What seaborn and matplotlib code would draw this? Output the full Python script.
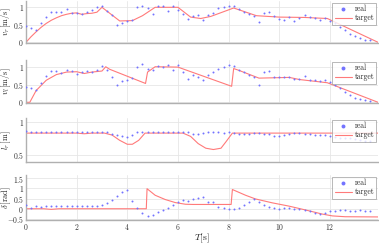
import numpy as np
import pandas as pd
import matplotlib
matplotlib.use('Agg')
import matplotlib.pyplot as plt
from matplotlib.ticker import FuncFormatter
import seaborn as sns

# sample times of the measured ("real") data
t_real = np.round(np.arange(0, 13.7, 0.2), 1)

# panel 1 : v_r
vr_real = [0.47, 0.42, 0.35, 0.55, 0.72, 0.88, 0.88, 0.86, 0.95, 0.85,
           0.84, 0.82, 0.86, 0.93, 1.0, 1.05, 0.9, 0.78, 0.5, 0.55,
           0.62, 0.63, 1.0, 1.05, 0.97, 0.82, 1.03, 1.05, 0.9, 1.05,
           0.92, 0.8, 0.68, 0.75, 0.78, 0.64, 0.78, 0.83, 0.98, 1.0,
           1.03, 1.05, 0.94, 0.88, 0.8, 0.74, 0.57, 0.85, 0.86, 0.76,
           0.68, 0.65, 0.72, 0.62, 0.7, 0.78, 0.72, 0.7, 0.65, 0.7,
           0.6, 0.56, 0.45, 0.35, 0.25, 0.17, 0.12, 0.08, 0.06]
vr_t_tgt = [0, 0.2, 0.4, 0.6, 0.8, 1.0, 1.2, 1.4, 1.6, 1.8, 2.0, 2.2, 2.4, 2.6, 2.8,
            3.0, 3.7, 4.2, 4.6, 5.1, 6.0, 6.5, 6.9, 7.3, 8.2, 9.1, 10.0, 11.0, 11.9, 13.9]
vr_tgt = [0, 0.16, 0.3, 0.43, 0.54, 0.63, 0.7, 0.76, 0.8, 0.83, 0.84, 0.8, 0.82, 0.83, 0.86,
          1.0, 0.61, 0.62, 0.76, 1.0, 1.0, 0.72, 0.68, 0.74, 0.98, 0.76, 0.72, 0.71, 0.68, 0.0]

# panel 2 : v_l
vl_real = [0.42, 0.4, 0.35, 0.55, 0.75, 0.87, 0.88, 0.82, 0.9, 0.88,
           0.8, 0.84, 0.87, 0.86, 0.92, 1.03, 0.9, 0.7, 0.5, 0.6,
           0.63, 0.68, 1.0, 1.08, 0.95, 0.9, 1.03, 1.0, 1.05, 0.9,
           1.05, 0.85, 0.65, 0.77, 0.72, 0.63, 0.77, 0.86, 0.95, 1.0,
           1.05, 1.02, 0.9, 0.86, 0.77, 0.72, 0.5, 0.86, 0.89, 0.72,
           0.7, 0.7, 0.72, 0.65, 0.66, 0.74, 0.63, 0.62, 0.6, 0.63,
           0.58, 0.5, 0.4, 0.3, 0.2, 0.13, 0.09, 0.07, 0.05]
vl_t_tgt = [0, 0.15, 0.4, 0.8, 1.2, 1.6, 2.0, 2.3, 2.6, 3.0, 3.15, 3.3, 4.72, 4.8, 5.1,
            6.0, 8.12, 8.2, 8.4, 9.2, 10.4, 10.8, 11.9, 13.9]
vl_tgt = [0, 0, 0.33, 0.62, 0.78, 0.85, 0.86, 0.81, 0.85, 0.88, 1.0, 0.93, 0.53, 0.85, 1.0,
          0.99, 0.45, 0.95, 0.9, 0.68, 0.7, 0.64, 0.55, 0.0]

# panel 3 : l_r
lr_real = [0.86, 0.85, 0.85, 0.84, 0.85, 0.85, 0.84, 0.85, 0.85, 0.84,
           0.84, 0.85, 0.85, 0.84, 0.85, 0.85, 0.84, 0.82, 0.8, 0.78,
           0.77, 0.8, 0.85, 0.85, 0.84, 0.85, 0.85, 0.84, 0.85, 0.84,
           0.85, 0.84, 0.84, 0.81, 0.82, 0.83, 0.84, 0.84, 0.84, 0.83,
           0.84, 0.83, 0.82, 0.81, 0.82, 0.83, 0.83, 0.82, 0.81, 0.79,
           0.79, 0.8, 0.82, 0.83, 0.83, 0.82, 0.81, 0.8, 0.8, 0.8,
           0.79, 0.77, 0.76, 0.75, 0.75, 0.74, 0.72, 0.71, 0.71]
lr_t_tgt = [0, 2.0, 2.3, 2.6, 3.1, 3.4, 3.7, 4.0, 4.2, 4.45, 4.7, 6.2, 6.5, 6.8, 7.1,
            7.4, 7.7, 7.9, 8.15, 13.9]
lr_tgt = [0.83, 0.83, 0.82, 0.83, 0.83, 0.8, 0.72, 0.66, 0.66, 0.72, 0.83, 0.83, 0.78, 0.67, 0.6,
          0.58, 0.6, 0.7, 0.83, 0.83]

# panel 4 : delta
d_real = [0.18, 0.05, 0.12, 0.1, 0.13, 0.12, 0.12, 0.13, 0.12, 0.13,
          0.12, 0.13, 0.15, 0.14, 0.15, 0.18, 0.28, 0.45, 0.62, 0.8,
          0.93, 0.4, 0.05, -0.22, -0.33, -0.3, -0.18, -0.08, 0.05, 0.18,
          0.32, 0.42, 0.38, 0.48, 0.52, 0.56, 0.35, 0.34, 0.1, 0.05,
          -0.02, 0.0, 0.05, 0.18, 0.35, 0.46, 0.33, 0.18, 0.07, 0.03,
          0.0, 0.02, 0.05, 0.0, -0.03, -0.08, -0.13, -0.2, -0.26, -0.2,
          -0.12, -0.1, -0.08, -0.08, -0.1, -0.12, -0.08, -0.1, -0.1]
d_t_tgt = [0, 0.7, 1.0, 1.3, 4.75, 4.78, 5.1, 5.5, 5.9, 6.3, 6.6, 8.1, 8.15, 8.67, 9.06,
           9.72, 10.38, 11.04, 11.7, 12.1, 12.6, 13.9]
d_tgt = [0, 0, -0.03, 0, 0, 0.98, 0.66, 0.45, 0.3, 0.22, 0.21, 0.21, 0.94, 0.66, 0.48,
         0.29, 0.13, -0.06, -0.26, -0.35, -0.39, -0.4]

panels = [
    (r'$v_r\,[\mathrm{m/s}]$', vr_real, vr_t_tgt, vr_tgt, (-0.02, 1.18), [0, 0.5, 1]),
    (r'$v_l\,[\mathrm{m/s}]$', vl_real, vl_t_tgt, vl_tgt, (-0.02, 1.19), [0, 0.5, 1]),
    (r'$l_r\,[\mathrm{m}]$', lr_real, lr_t_tgt, lr_tgt, (0.39, 1.06), [0.5, 1]),
    (r'$\delta\,[\mathrm{rad}]$', d_real, d_t_tgt, d_tgt, (-0.55, 1.65), [-0.5, 0, 0.5, 1, 1.5]),
]

sns.set_style('whitegrid')
plt.rcParams['font.family'] = ['cmr10', 'DejaVu Serif']
plt.rcParams['mathtext.fontset'] = 'cm'
plt.rcParams['axes.formatter.use_mathtext'] = True

fig = plt.figure(figsize=(3.79, 2.44), dpi=100)
tops = [1, 60, 118, 175]
bottoms = [43, 103, 162, 220]
fmt = FuncFormatter(lambda v, p: f'${v:g}$')

for i, (lab, real, tt, tv, ylim, yt) in enumerate(panels):
    ax = fig.add_axes([26 / 379, 1 - bottoms[i] / 244, 352 / 379, (bottoms[i] - tops[i]) / 244])
    sns.scatterplot(x=t_real, y=real, ax=ax, color='#7373ff', s=2, linewidth=0,
                    label='real', zorder=3)
    sns.lineplot(x=tt, y=tv, ax=ax, color='#ff7a7a', linewidth=0.8, label='target',
                 sort=False, zorder=2)
    ax.set_xlim(0, 13.9)
    ax.set_ylim(*ylim)
    ax.set_yticks(yt)
    ax.set_xticks([0, 2, 4, 6, 8, 10, 12])
    ax.yaxis.set_major_formatter(fmt)
    ax.xaxis.set_major_formatter(fmt)
    ax.grid(True, color='#e6e6e6', linewidth=0.6)
    for s in ['top', 'right']:
        ax.spines[s].set_visible(False)
    for s in ['left', 'bottom']:
        ax.spines[s].set_color('#b0b0b0')
        ax.spines[s].set_linewidth(1.0)
    ax.tick_params(labelsize=5.5, length=0, pad=1.5, colors='#333333')
    ax.set_ylabel(lab, fontsize=6)
    ax.yaxis.set_label_coords(-0.037, 0.5)
    if i < 3:
        ax.tick_params(labelbottom=False)
    else:
        ax.set_xlabel(r'$T[\mathrm{s}]$', fontsize=7, labelpad=-0.5)
    leg = ax.legend(loc='upper right', fontsize=5.5, frameon=True, fancybox=False,
                    borderpad=0.3, handlelength=2.2, handletextpad=0.4,
                    labelspacing=0.1, borderaxespad=0.2, markerscale=2)
    leg.get_frame().set_edgecolor('#999999')
    leg.get_frame().set_linewidth(0.6)

fig.savefig('out.png', dpi=100)
